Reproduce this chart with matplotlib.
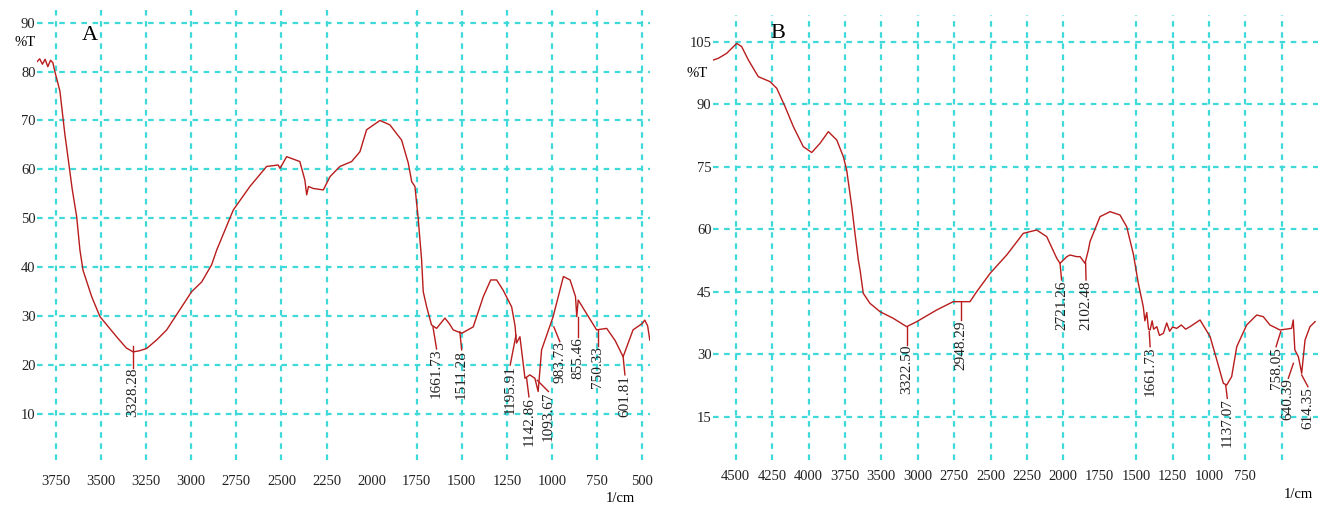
import matplotlib
matplotlib.use('Agg')
import matplotlib.pyplot as plt

plt.rcParams['font.family'] = 'Liberation Serif'

# Spectrum A (wavenumber 1/cm, %T)
wn_a = [3855, 3840, 3825, 3810, 3795, 3780, 3767, 3756, 3728, 3700, 3691, 3660, 3635,
        3617, 3600, 3552, 3506, 3414, 3360, 3322, 3290, 3247, 3190, 3136, 3060, 2998,
        2942, 2887, 2859, 2767, 2675, 2582, 2518, 2508, 2471, 2398, 2370, 2360, 2350,
        2324, 2268, 2231, 2176, 2111, 2065, 2028, 1954, 1899, 1834, 1797, 1778, 1760,
        1742, 1723, 1714, 1695, 1668, 1640, 1594, 1570, 1548, 1501, 1437, 1381, 1340,
        1307, 1271, 1224, 1205, 1197, 1178, 1150, 1123, 1095, 1077, 1058, 994, 937,
        900, 870, 863, 855, 800, 753, 697, 650, 606, 551, 500, 486, 470, 458]
t_a = [82.0, 82.6, 81.5, 82.5, 81.0, 82.3, 81.8, 80.0, 76.0, 67.0, 64.6, 56.0, 50.3,
       43.5, 39.4, 34.0, 29.9, 25.8, 23.5, 22.7, 22.9, 23.4, 25.2, 27.2, 31.5, 35.0,
       37.0, 40.5, 43.5, 51.7, 56.5, 60.6, 60.9, 60.2, 62.6, 61.6, 57.8, 54.8, 56.5,
       56.1, 55.8, 58.5, 60.6, 61.6, 63.6, 68.1, 70.0, 69.1, 66.0, 61.3, 57.5, 56.5,
       50.0, 41.5, 35.0, 31.9, 28.2, 27.5, 29.6, 28.5, 27.2, 26.5, 27.8, 34.0, 37.4,
       37.4, 35.3, 31.9, 28.0, 24.5, 25.8, 17.3, 18.0, 17.3, 14.6, 23.1, 29.9, 38.1,
       37.4, 34.0, 29.9, 33.3, 30.0, 27.2, 27.5, 25.0, 21.7, 27.2, 28.5, 29.2, 28.0, 25.1]

# Spectrum B
wn_b = [4654, 4620, 4562, 4493, 4459, 4413, 4345, 4264, 4218, 4161, 4104, 4036, 3978,
        3921, 3864, 3806, 3761, 3738, 3703, 3681, 3658, 3646, 3624, 3578, 3509, 3418,
        3326, 3257, 3120, 3006, 2948, 2891, 2845, 2753, 2639, 2525, 2433, 2364, 2295,
        2273, 2226, 2204, 2158, 2135, 2101, 2078, 2067, 1998, 1929, 1861, 1815, 1769,
        1735, 1701, 1690, 1677, 1665, 1654, 1640, 1630, 1608, 1590, 1563, 1540, 1520,
        1500, 1471, 1440, 1410, 1380, 1311, 1242, 1196, 1151, 1128, 1094, 1059, 991,
        922, 877, 831, 762, 682, 671, 660, 636, 613, 590, 556, 521]
t_b = [100.6, 101.0, 102.2, 104.6, 103.8, 100.6, 96.6, 95.4, 93.8, 89.4, 84.6, 79.8, 78.4,
       80.6, 83.4, 81.4, 77.4, 74.2, 65.4, 59.0, 52.6, 50.2, 44.6, 42.2, 40.2, 38.6,
       36.6, 37.8, 40.6, 42.6, 42.6, 42.6, 45.0, 49.4, 53.8, 59.0, 59.8, 58.2, 53.0,
       51.8, 53.4, 53.8, 53.4, 53.4, 51.8, 55.0, 57.0, 63.0, 64.2, 63.4, 60.6, 54.0,
       47.0, 41.4, 38.0, 40.0, 36.0, 35.8, 38.0, 36.0, 36.6, 34.5, 35.0, 37.5, 35.5,
       36.5, 36.2, 37.0, 36.0, 36.6, 38.2, 34.2, 28.6, 23.0, 22.6, 24.6, 31.8, 37.0,
       39.4, 39.0, 37.0, 35.8, 36.2, 38.2, 31.0, 29.4, 25.4, 33.4, 36.6, 37.8]

# axis tick labels (as printed)
ticks_a = [3750, 3500, 3250, 3000, 2750, 2500, 2250, 2000, 1750, 1500, 1250, 1000, 750, 500]
ticks_b = [4500, 4250, 4000, 3750, 3500, 3250, 3000, 2750, 2500, 2250, 2000, 1750, 1500, 1250, 1000]
labels_b = ['4500', '4250', '4000', '3750', '3500', '3000', '2750', '2500', '2250',
            '2000', '1750', '1500', '1250', '1000', '750']

# peak labels
peaks_a = ['3328.28', '1661.73', '1511.28', '1195.91', '1142.86', '1093.67',
           '983.73', '855.46', '750.33', '601.81']
peaks_b = ['3322.50', '2948.29', '2721.26', '2102.48', '1661.73', '1137.07',
           '758.05', '640.39', '614.35']

# annotation layout: (line x, line top y, text x, text top y)
pos_a = [(3322, 23.8, 3322, 19.5), (1660, 27.8, 1640, 23.3), (1511, 26.8, 1501, 23.1),
         (1200, 26.1, 1232, 20.0), (1141, 17.3, 1128, 13.5), (1082, 16.9, 1020, 14.6),
         (990, 27.8, 957, 24.8), (855, 29.9, 855, 25.8), (747, 27.2, 747, 23.8),
         (606, 21.7, 596, 18.0)]
pos_b = [(3326, 36.6, 3326, 32.2), (2955, 42.6, 2955, 38.2), (2273, 51.9, 2262, 47.8),
         (2097, 51.9, 2094, 47.8), (1660, 35.4, 1654, 31.8), (1135, 22.6, 1124, 19.4),
         (757, 35.4, 789, 31.8), (670, 27.8, 705, 24.2), (613, 25.0, 570, 22.2)]

CURVE = '#b81c1c'
GRID = '#3fd9d9'
W, H = 1329, 507


def setup_axes(rect, xlim, ylim, vgrid, hgrid, xpad):
    ax = fig.add_axes(rect)
    ax.set_xlim(*xlim)
    ax.set_ylim(*ylim)
    for s in ax.spines.values():
        s.set_visible(False)
    for v in vgrid:
        ax.axvline(v, color=GRID, lw=1.6, ls=(0, (2.5, 2.5)), zorder=0)
    for h in hgrid:
        ax.axhline(h, color=GRID, lw=1.6, ls=(0, (2.5, 2.5)), zorder=0)
    ax.tick_params(length=0, labelsize=10.5, colors='#222222')
    ax.tick_params(axis='x', pad=xpad)
    ax.tick_params(axis='y', pad=1)
    return ax


def annotate_peaks(ax, names, pos):
    for name, (lx, ly, tx, ty) in zip(names, pos):
        ax.plot([lx, tx], [ly, ty], color=CURVE, lw=1.0, zorder=3)
        ax.text(tx, ty, name, rotation=90, ha='center', va='top',
                fontsize=11, color='#222222')


fig = plt.figure(figsize=(W / 100, H / 100), dpi=100)

# panel A
ax1 = setup_axes([37 / W, 47 / H, 613 / W, 455 / H], (3855, 457), (0.6, 93.6),
                 [t for t in ticks_a if t != 2000], range(10, 100, 10), 11)
ax1.plot(wn_a, t_a, color=CURVE, lw=1.0, zorder=2)
ax1.set_xticks(ticks_a)
ax1.set_yticks(range(10, 100, 10))
annotate_peaks(ax1, peaks_a, pos_a)

# panel B
ax2 = setup_axes([713 / W, 47 / H, 605 / W, 445 / H], (4656, 501), (4.6, 111.4),
                 [t for t in ticks_b + [750] if t != 2000], range(15, 110, 15), 7)
ax2.plot(wn_b, t_b, color=CURVE, lw=1.0, zorder=2)
ax2.set_xticks(ticks_b)
ax2.set_xticklabels(labels_b)
ax2.set_yticks(range(15, 110, 15))
annotate_peaks(ax2, peaks_b, pos_b)

# panel letters and units
fig.text(90 / W, 1 - 35 / H, 'A', fontsize=16, ha='center', va='center')
fig.text(778 / W, 1 - 33 / H, 'B', fontsize=16, ha='center', va='center')
fig.text(25 / W, 1 - 43 / H, '%T', fontsize=10.5, ha='center', va='center')
fig.text(697 / W, 1 - 73 / H, '%T', fontsize=10.5, ha='center', va='center')
fig.text(620 / W, 1 - 498 / H, '1/cm', fontsize=10.5, ha='center', va='center')
fig.text(1298 / W, 1 - 495 / H, '1/cm', fontsize=10.5, ha='center', va='center')

fig.savefig('out.png', dpi=100)
